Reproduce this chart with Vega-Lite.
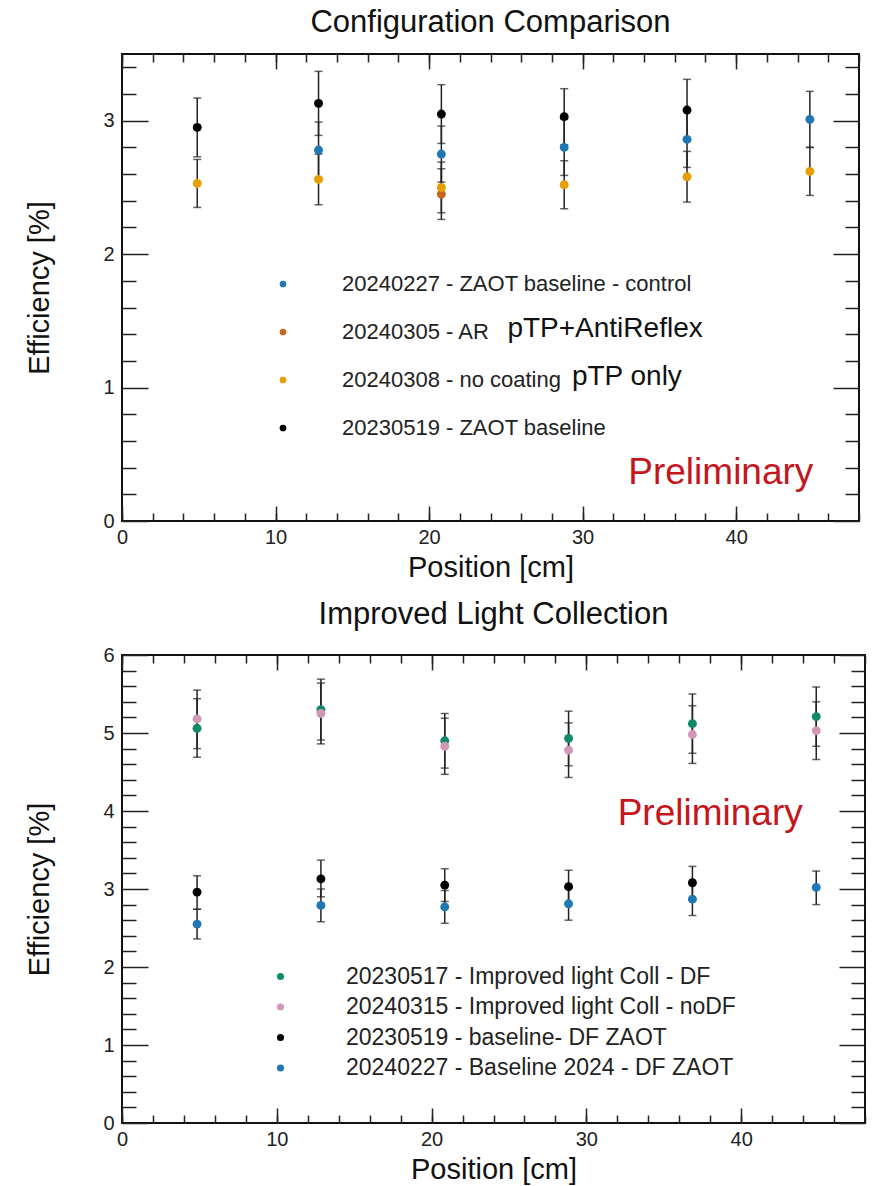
{
  "$schema": "https://vega.github.io/schema/vega-lite/v6.json",
  "padding": {"left": 24, "top": 6, "right": 2, "bottom": 2},
  "spacing": 15,
  "datasets": {
    "top": [
      {"pos": 12.8, "eff": 2.78, "lo": 2.57, "hi": 2.99, "series": "20240227 - ZAOT baseline - control"},
      {"pos": 20.8, "eff": 2.75, "lo": 2.54, "hi": 2.96, "series": "20240227 - ZAOT baseline - control"},
      {"pos": 28.8, "eff": 2.80, "lo": 2.59, "hi": 3.01, "series": "20240227 - ZAOT baseline - control"},
      {"pos": 36.8, "eff": 2.86, "lo": 2.65, "hi": 3.07, "series": "20240227 - ZAOT baseline - control"},
      {"pos": 44.8, "eff": 3.01, "lo": 2.80, "hi": 3.22, "series": "20240227 - ZAOT baseline - control"},
      {"pos": 20.8, "eff": 2.45, "lo": 2.26, "hi": 2.64, "series": "20240305 - AR"},
      {"pos": 4.9, "eff": 2.53, "lo": 2.35, "hi": 2.71, "series": "20240308 - no coating"},
      {"pos": 12.8, "eff": 2.56, "lo": 2.37, "hi": 2.75, "series": "20240308 - no coating"},
      {"pos": 20.8, "eff": 2.50, "lo": 2.31, "hi": 2.69, "series": "20240308 - no coating"},
      {"pos": 28.8, "eff": 2.52, "lo": 2.34, "hi": 2.70, "series": "20240308 - no coating"},
      {"pos": 36.8, "eff": 2.58, "lo": 2.39, "hi": 2.77, "series": "20240308 - no coating"},
      {"pos": 44.8, "eff": 2.62, "lo": 2.44, "hi": 2.80, "series": "20240308 - no coating"},
      {"pos": 4.9, "eff": 2.95, "lo": 2.73, "hi": 3.17, "series": "20230519 - ZAOT baseline"},
      {"pos": 12.8, "eff": 3.13, "lo": 2.89, "hi": 3.37, "series": "20230519 - ZAOT baseline"},
      {"pos": 20.8, "eff": 3.05, "lo": 2.83, "hi": 3.27, "series": "20230519 - ZAOT baseline"},
      {"pos": 28.8, "eff": 3.03, "lo": 2.82, "hi": 3.24, "series": "20230519 - ZAOT baseline"},
      {"pos": 36.8, "eff": 3.08, "lo": 2.86, "hi": 3.31, "series": "20230519 - ZAOT baseline"}
    ],
    "bottom": [
      {"pos": 4.85, "eff": 5.06, "lo": 4.69, "hi": 5.44, "series": "20230517 - Improved light Coll - DF"},
      {"pos": 12.85, "eff": 5.30, "lo": 4.91, "hi": 5.69, "series": "20230517 - Improved light Coll - DF"},
      {"pos": 20.85, "eff": 4.90, "lo": 4.55, "hi": 5.25, "series": "20230517 - Improved light Coll - DF"},
      {"pos": 28.85, "eff": 4.93, "lo": 4.58, "hi": 5.28, "series": "20230517 - Improved light Coll - DF"},
      {"pos": 36.85, "eff": 5.12, "lo": 4.74, "hi": 5.50, "series": "20230517 - Improved light Coll - DF"},
      {"pos": 44.85, "eff": 5.21, "lo": 4.83, "hi": 5.59, "series": "20230517 - Improved light Coll - DF"},
      {"pos": 4.85, "eff": 5.18, "lo": 4.80, "hi": 5.55, "series": "20240315 - Improved light Coll - noDF"},
      {"pos": 12.85, "eff": 5.25, "lo": 4.86, "hi": 5.64, "series": "20240315 - Improved light Coll - noDF"},
      {"pos": 20.85, "eff": 4.83, "lo": 4.47, "hi": 5.19, "series": "20240315 - Improved light Coll - noDF"},
      {"pos": 28.85, "eff": 4.78, "lo": 4.43, "hi": 5.13, "series": "20240315 - Improved light Coll - noDF"},
      {"pos": 36.85, "eff": 4.98, "lo": 4.61, "hi": 5.35, "series": "20240315 - Improved light Coll - noDF"},
      {"pos": 44.85, "eff": 5.03, "lo": 4.66, "hi": 5.40, "series": "20240315 - Improved light Coll - noDF"},
      {"pos": 4.85, "eff": 2.96, "lo": 2.74, "hi": 3.17, "series": "20230519 - baseline- DF ZAOT"},
      {"pos": 12.85, "eff": 3.13, "lo": 2.90, "hi": 3.37, "series": "20230519 - baseline- DF ZAOT"},
      {"pos": 20.85, "eff": 3.05, "lo": 2.84, "hi": 3.26, "series": "20230519 - baseline- DF ZAOT"},
      {"pos": 28.85, "eff": 3.03, "lo": 2.82, "hi": 3.24, "series": "20230519 - baseline- DF ZAOT"},
      {"pos": 36.85, "eff": 3.08, "lo": 2.87, "hi": 3.29, "series": "20230519 - baseline- DF ZAOT"},
      {"pos": 4.85, "eff": 2.55, "lo": 2.36, "hi": 2.74, "series": "20240227 - Baseline 2024 - DF ZAOT"},
      {"pos": 12.85, "eff": 2.79, "lo": 2.58, "hi": 3.00, "series": "20240227 - Baseline 2024 - DF ZAOT"},
      {"pos": 20.85, "eff": 2.77, "lo": 2.56, "hi": 2.98, "series": "20240227 - Baseline 2024 - DF ZAOT"},
      {"pos": 28.85, "eff": 2.81, "lo": 2.60, "hi": 3.02, "series": "20240227 - Baseline 2024 - DF ZAOT"},
      {"pos": 36.85, "eff": 2.87, "lo": 2.66, "hi": 3.08, "series": "20240227 - Baseline 2024 - DF ZAOT"},
      {"pos": 44.85, "eff": 3.02, "lo": 2.80, "hi": 3.23, "series": "20240227 - Baseline 2024 - DF ZAOT"}
    ],
    "prelimTop": [{"pos": 39.0, "eff": 0.36, "label": "Preliminary"}],
    "prelimBottom": [{"pos": 38.0, "eff": 3.96, "label": "Preliminary"}],
    "notesTop": [
      {"pos": 25.1, "eff": 1.44, "label": "pTP+AntiReflex"},
      {"pos": 29.3, "eff": 1.08, "label": "pTP only"}
    ]
  },
  "resolve": {
    "scale": {"x": "independent", "y": "independent", "color": "independent"},
    "legend": {"color": "independent"}
  },
  "vconcat": [
    {
      "title": {"text": "Configuration Comparison"},
      "width": 737,
      "height": 467,
      "resolve": {"axis": {"x": "independent", "y": "independent"}},
      "layer": [
        {
          "data": {"name": "top"},
          "mark": {"type": "rule", "color": "#222", "strokeWidth": 1.5},
          "encoding": {
            "x": {"field": "pos", "type": "quantitative", "scale": {"domain": [0, 48], "nice": false, "zero": false},
                  "axis": {"orient": "bottom", "values": [0, 10, 20, 30, 40], "ticks": false, "labelPadding": 6, "title": "Position [cm]", "titlePadding": 6}},
            "y": {"field": "lo", "type": "quantitative", "scale": {"domain": [0, 3.5], "nice": false, "zero": false},
                  "axis": {"orient": "left", "values": [0, 1, 2, 3], "ticks": false, "labelPadding": 8, "title": "Efficiency [%]", "titlePadding": 48}},
            "y2": {"field": "hi"}
          }
        },
        {
          "data": {"name": "top"},
          "mark": {"type": "tick", "orient": "horizontal", "color": "#222", "size": 8, "thickness": 1.5},
          "encoding": {
            "x": {"field": "pos", "type": "quantitative",
                  "axis": {"orient": "bottom", "values": [0, 10, 20, 30, 40], "labels": false, "title": null, "tickSize": -15}},
            "y": {"field": "lo", "type": "quantitative",
                  "axis": {"orient": "left", "values": [0, 1, 2, 3], "labels": false, "title": null, "tickSize": -26}}
          }
        },
        {
          "data": {"name": "top"},
          "mark": {"type": "tick", "orient": "horizontal", "color": "#222", "size": 8, "thickness": 1.5},
          "encoding": {
            "x": {"field": "pos", "type": "quantitative",
                  "axis": {"orient": "bottom", "values": [0, 2, 4, 6, 8, 10, 12, 14, 16, 18, 20, 22, 24, 26, 28, 30, 32, 34, 36, 38, 40, 42, 44, 46, 48], "labels": false, "title": null, "tickSize": -8}},
            "y": {"field": "hi", "type": "quantitative",
                  "axis": {"orient": "left", "values": [0.2, 0.4, 0.6, 0.8, 1.2, 1.4, 1.6, 1.8, 2.2, 2.4, 2.6, 2.8, 3.2, 3.4], "labels": false, "title": null, "tickSize": -14}}
          }
        },
        {
          "data": {"name": "top"},
          "mark": {"type": "point", "filled": true, "size": 80, "opacity": 1},
          "encoding": {
            "x": {"field": "pos", "type": "quantitative",
                  "axis": {"orient": "top", "values": [0, 10, 20, 30, 40], "labels": false, "title": null, "tickSize": -15}},
            "y": {"field": "eff", "type": "quantitative",
                  "axis": {"orient": "right", "values": [0, 1, 2, 3], "labels": false, "title": null, "tickSize": -26}},
            "color": {"field": "series", "type": "nominal",
                      "scale": {"domain": ["20240227 - ZAOT baseline - control", "20240305 - AR", "20240308 - no coating", "20230519 - ZAOT baseline"],
                                "range": ["#1f78b4", "#c4661f", "#e69f00", "#000000"]},
                      "legend": {"orient": "none", "legendX": 150, "legendY": 219, "title": null, "symbolType": "circle", "symbolSize": 45, "symbolStrokeWidth": 0, "symbolOpacity": 1,
                                 "labelFontSize": 22, "labelOffset": 48, "rowPadding": 26, "labelLimit": 700, "labelColor": "#222"}}
          }
        },
        {
          "data": {"name": "prelimTop"},
          "mark": {"type": "text", "color": "#c4161c", "fontSize": 37, "align": "center", "baseline": "middle"},
          "encoding": {
            "x": {"field": "pos", "type": "quantitative",
                  "axis": {"orient": "top", "values": [0, 2, 4, 6, 8, 10, 12, 14, 16, 18, 20, 22, 24, 26, 28, 30, 32, 34, 36, 38, 40, 42, 44, 46, 48], "labels": false, "title": null, "tickSize": -8}},
            "y": {"field": "eff", "type": "quantitative",
                  "axis": {"orient": "right", "values": [0.2, 0.4, 0.6, 0.8, 1.2, 1.4, 1.6, 1.8, 2.2, 2.4, 2.6, 2.8, 3.2, 3.4], "labels": false, "title": null, "tickSize": -14}},
            "text": {"field": "label"}
          }
        },
        {
          "data": {"name": "notesTop"},
          "mark": {"type": "text", "color": "#111", "fontSize": 28, "align": "left", "baseline": "middle"},
          "encoding": {
            "x": {"field": "pos", "type": "quantitative", "axis": null},
            "y": {"field": "eff", "type": "quantitative", "axis": null},
            "text": {"field": "label"}
          }
        }
      ]
    },
    {
      "title": {"text": "Improved Light Collection"},
      "width": 743,
      "height": 468,
      "resolve": {"axis": {"x": "independent", "y": "independent"}},
      "layer": [
        {
          "data": {"name": "bottom"},
          "mark": {"type": "rule", "color": "#222", "strokeWidth": 1.5},
          "encoding": {
            "x": {"field": "pos", "type": "quantitative", "scale": {"domain": [0, 48], "nice": false, "zero": false},
                  "axis": {"orient": "bottom", "values": [0, 10, 20, 30, 40], "ticks": false, "labelPadding": 6, "title": "Position [cm]", "titlePadding": 6}},
            "y": {"field": "lo", "type": "quantitative", "scale": {"domain": [0, 6], "nice": false, "zero": false},
                  "axis": {"orient": "left", "values": [0, 1, 2, 3, 4, 5, 6], "ticks": false, "labelPadding": 8, "title": "Efficiency [%]", "titlePadding": 48}},
            "y2": {"field": "hi"}
          }
        },
        {
          "data": {"name": "bottom"},
          "mark": {"type": "tick", "orient": "horizontal", "color": "#222", "size": 8, "thickness": 1.5},
          "encoding": {
            "x": {"field": "pos", "type": "quantitative",
                  "axis": {"orient": "bottom", "values": [0, 10, 20, 30, 40], "labels": false, "title": null, "tickSize": -15}},
            "y": {"field": "lo", "type": "quantitative",
                  "axis": {"orient": "left", "values": [0, 1, 2, 3, 4, 5, 6], "labels": false, "title": null, "tickSize": -26}}
          }
        },
        {
          "data": {"name": "bottom"},
          "mark": {"type": "tick", "orient": "horizontal", "color": "#222", "size": 8, "thickness": 1.5},
          "encoding": {
            "x": {"field": "pos", "type": "quantitative",
                  "axis": {"orient": "bottom", "values": [0, 2, 4, 6, 8, 10, 12, 14, 16, 18, 20, 22, 24, 26, 28, 30, 32, 34, 36, 38, 40, 42, 44, 46, 48], "labels": false, "title": null, "tickSize": -8}},
            "y": {"field": "hi", "type": "quantitative",
                  "axis": {"orient": "left", "values": [0.2, 0.4, 0.6, 0.8, 1.2, 1.4, 1.6, 1.8, 2.2, 2.4, 2.6, 2.8, 3.2, 3.4, 3.6, 3.8, 4.2, 4.4, 4.6, 4.8, 5.2, 5.4, 5.6, 5.8], "labels": false, "title": null, "tickSize": -14}}
          }
        },
        {
          "data": {"name": "bottom"},
          "mark": {"type": "point", "filled": true, "size": 80, "opacity": 1},
          "encoding": {
            "x": {"field": "pos", "type": "quantitative",
                  "axis": {"orient": "top", "values": [0, 10, 20, 30, 40], "labels": false, "title": null, "tickSize": -15}},
            "y": {"field": "eff", "type": "quantitative",
                  "axis": {"orient": "right", "values": [0, 1, 2, 3, 4, 5, 6], "labels": false, "title": null, "tickSize": -26}},
            "color": {"field": "series", "type": "nominal",
                      "scale": {"domain": ["20230517 - Improved light Coll - DF", "20240315 - Improved light Coll - noDF", "20230519 - baseline- DF ZAOT", "20240227 - Baseline 2024 - DF ZAOT"],
                                "range": ["#11896b", "#cf98b8", "#000000", "#1f78b4"]},
                      "legend": {"orient": "none", "legendX": 147, "legendY": 310, "title": null, "symbolType": "circle", "symbolSize": 50, "symbolStrokeWidth": 0, "symbolOpacity": 1,
                                 "labelFontSize": 23, "labelOffset": 54, "rowPadding": 6.5, "labelLimit": 700, "labelColor": "#222"}}
          }
        },
        {
          "data": {"name": "prelimBottom"},
          "mark": {"type": "text", "color": "#c4161c", "fontSize": 37, "align": "center", "baseline": "middle"},
          "encoding": {
            "x": {"field": "pos", "type": "quantitative",
                  "axis": {"orient": "top", "values": [0, 2, 4, 6, 8, 10, 12, 14, 16, 18, 20, 22, 24, 26, 28, 30, 32, 34, 36, 38, 40, 42, 44, 46, 48], "labels": false, "title": null, "tickSize": -8}},
            "y": {"field": "eff", "type": "quantitative",
                  "axis": {"orient": "right", "values": [0.2, 0.4, 0.6, 0.8, 1.2, 1.4, 1.6, 1.8, 2.2, 2.4, 2.6, 2.8, 3.2, 3.4, 3.6, 3.8, 4.2, 4.4, 4.6, 4.8, 5.2, 5.4, 5.6, 5.8], "labels": false, "title": null, "tickSize": -14}},
            "text": {"field": "label"}
          }
        }
      ]
    }
  ],
  "config": {
    "font": "Liberation Sans",
    "background": "white",
    "view": {"stroke": "#111", "strokeWidth": 2},
    "axis": {
      "labelFont": "Liberation Sans", "labelFontSize": 20, "labelColor": "#222",
      "titleFont": "Liberation Sans", "titleFontSize": 29, "titleFontWeight": "normal", "titleColor": "#111",
      "grid": false, "domain": false, "tickColor": "#222", "tickWidth": 1.5,
      "labelFlush": false, "labelOverlap": false
    },
    "legend": {"labelFont": "Liberation Sans"},
    "title": {"font": "Liberation Sans", "fontSize": 31, "fontWeight": "normal", "color": "#111", "anchor": "middle", "offset": 14}
  }
}
